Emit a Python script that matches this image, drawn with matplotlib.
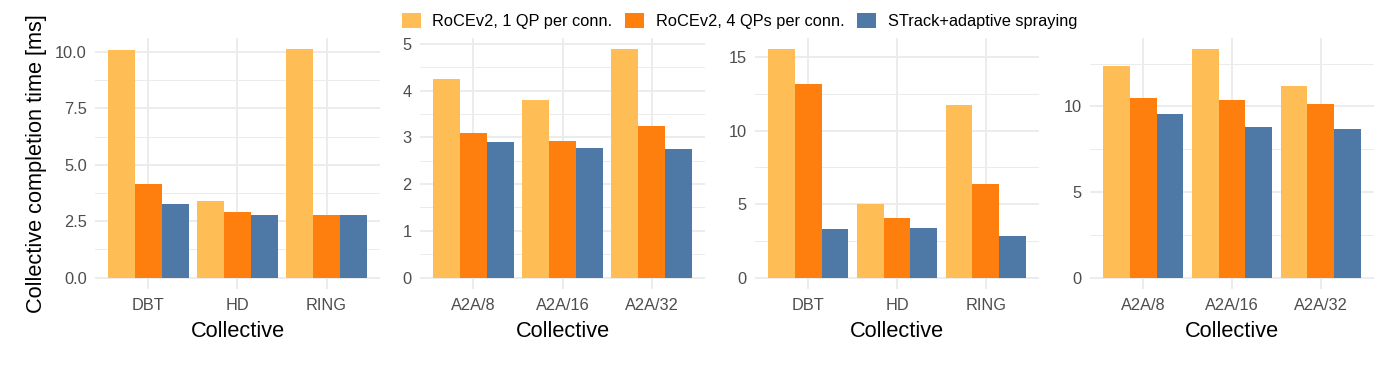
import matplotlib
matplotlib.use("Agg")
import matplotlib.pyplot as plt
from matplotlib.patches import Patch
import numpy as np

plt.rcParams["font.family"] = ["Liberation Sans", "DejaVu Sans"]

SERIES = [
    "RoCEv2, 1 QP per conn.",
    "RoCEv2, 4 QPs per conn.",
    "STrack+adaptive spraying",
]
COLORS = ["#FEBE55", "#FF7F0E", "#4E79A7"]

# panel 1: DBT / HD / RING (small)
cats_1 = ["DBT", "HD", "RING"]
vals_1 = [
    [10.07, 3.41, 10.11],   # 1 QP
    [4.14, 2.90, 2.76],     # 4 QPs
    [3.27, 2.78, 2.76],     # STrack
]
# panel 2: all-to-all (small)
cats_2 = ["A2A/8", "A2A/16", "A2A/32"]
vals_2 = [
    [4.25, 3.80, 4.88],
    [3.10, 2.93, 3.25],
    [2.91, 2.78, 2.74],
]
# panel 3: DBT / HD / RING (large)
cats_3 = ["DBT", "HD", "RING"]
vals_3 = [
    [15.52, 4.98, 11.76],
    [13.19, 4.08, 6.34],
    [3.28, 3.35, 2.81],
]
# panel 4: all-to-all (large)
cats_4 = ["A2A/8", "A2A/16", "A2A/32"]
vals_4 = [
    [12.34, 13.33, 11.21],
    [10.49, 10.39, 10.16],
    [9.53, 8.81, 8.70],
]

# major y breaks per panel (minor gridlines sit halfway between)
breaks_1 = [0, 2.5, 5, 7.5, 10]
breaks_2 = [0, 1, 2, 3, 4, 5]
breaks_3 = [0, 5, 10, 15]
breaks_4 = [0, 5, 10]

W, H = 1400, 367
GRID = "#EBEBEB"
TICK_COL = "#4D4D4D"


def draw_panel(ax, cats, vals, breaks, fmt):
    x = np.arange(1, len(cats) + 1)
    bw = 0.3
    for i, (v, c) in enumerate(zip(vals, COLORS)):
        ax.bar(x + (i - 1) * bw, v, width=bw, color=c, linewidth=0, zorder=3)

    ymax = max(max(v) for v in vals)
    ax.set_ylim(-0.05 * ymax, 1.05 * ymax)
    ax.set_xlim(0.4, len(cats) + 0.6)

    step = breaks[1] - breaks[0]
    minors = [b + step / 2 for b in breaks]
    minors = [m for m in minors if m < 1.05 * ymax]
    ax.set_yticks(breaks)
    ax.set_yticks(minors, minor=True)
    ax.set_yticklabels([fmt.format(b) for b in breaks])
    ax.set_xticks(x)
    ax.set_xticklabels(cats)

    ax.grid(True, which="major", color=GRID, linewidth=1.3, zorder=0)
    ax.grid(True, which="minor", axis="y", color=GRID, linewidth=0.7, zorder=0)
    ax.set_axisbelow(True)
    for s in ax.spines.values():
        s.set_visible(False)
    ax.tick_params(axis="both", which="both", length=0, labelsize=11.8,
                   labelcolor=TICK_COL)
    ax.tick_params(axis="x", pad=6.5)
    ax.tick_params(axis="y", pad=6)
    ax.set_xlabel("Collective", fontsize=15.7, labelpad=5.5)


fig = plt.figure(figsize=(W / 100, H / 100), dpi=100)

panels = [
    (95, 380, cats_1, vals_1, breaks_1, "{:.1f}"),
    (420, 705, cats_2, vals_2, breaks_2, "{:g}"),
    (755, 1039, cats_3, vals_3, breaks_3, "{:g}"),
    (1090, 1374, cats_4, vals_4, breaks_4, "{:g}"),
]
top, bottom = 38, 289
axes = []
for x0, x1, cats, vals, breaks, fmt in panels:
    ax = fig.add_axes([x0 / W, (H - bottom) / H, (x1 - x0) / W, (bottom - top) / H])
    draw_panel(ax, cats, vals, breaks, fmt)
    axes.append(ax)

axes[0].set_ylabel("Collective completion time [ms]", fontsize=15.7, labelpad=6)

handles = [Patch(facecolor=c, edgecolor="none") for c in COLORS]
fig.legend(handles, SERIES, loc="center", bbox_to_anchor=(739.5 / W, 1 - 21 / H),
           ncol=3, frameon=False, fontsize=11.8, handlelength=1.15,
           handleheight=1.0, handletextpad=0.7, columnspacing=0.8,
           borderpad=0, borderaxespad=0)

fig.savefig("out.png", dpi=100)
